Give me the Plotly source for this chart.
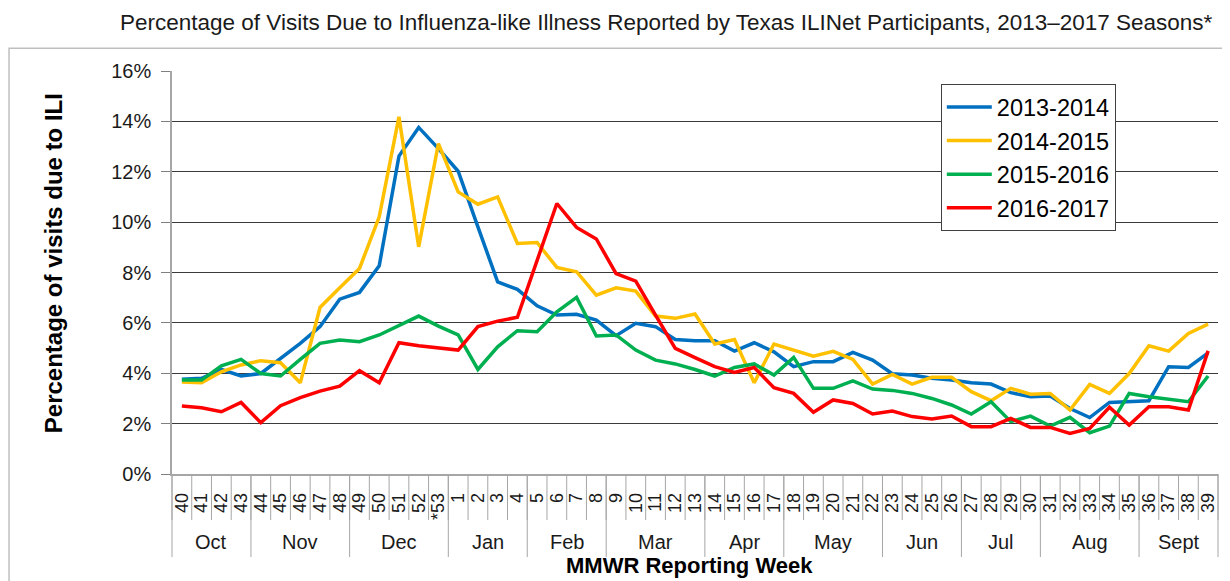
import plotly.graph_objects as go

# ---- data ----
weeks = [str(w) for w in range(40, 53)] + ["*53"] + [str(w) for w in range(1, 40)]
months = ["Oct", "Nov", "Dec", "Jan", "Feb", "Mar", "Apr", "May", "Jun", "Jul", "Aug", "Sept"]
month_weeks = [4, 5, 5, 4, 4, 5, 4, 5, 4, 4, 5, 4]

season_names = ["2013-2014", "2014-2015", "2015-2016", "2016-2017"]

ili_2013_2014 = [3.76, 3.80, 4.15, 3.89, 3.99, 4.59, 5.19, 5.85, 6.94, 7.21, 8.27, 12.62, 13.76, 12.92, 12.02, 9.81, 7.63, 7.33, 6.68,
                 6.31, 6.34, 6.11, 5.49, 5.98, 5.85, 5.34, 5.29, 5.29, 4.88, 5.21, 4.85, 4.26, 4.46, 4.46, 4.83, 4.52, 3.98,
                 3.93, 3.80, 3.73, 3.62, 3.57, 3.23, 3.07, 3.10, 2.60, 2.24, 2.84, 2.87, 2.91, 4.26, 4.23, 4.81]
ili_2014_2015 = [3.65, 3.62, 4.06, 4.33, 4.50, 4.42, 3.62, 6.61, 7.39, 8.16, 10.21, 14.18, 9.02, 13.12, 11.20, 10.71, 11.00, 9.15, 9.19,
                 8.20, 8.03, 7.10, 7.39, 7.26, 6.27, 6.18, 6.35, 5.16, 5.34, 3.62, 5.16, 4.92, 4.68, 4.87, 4.55, 3.57, 3.95,
                 3.57, 3.84, 3.84, 3.27, 2.91, 3.40, 3.17, 3.20, 2.54, 3.56, 3.20, 3.99, 5.09, 4.88, 5.58, 5.95]
ili_2015_2016 = [3.73, 3.73, 4.29, 4.55, 3.99, 3.89, 4.55, 5.19, 5.32, 5.25, 5.52, 5.89, 6.27, 5.87, 5.52, 4.15, 5.05, 5.69, 5.65,
                 6.44, 7.01, 5.48, 5.52, 4.92, 4.52, 4.37, 4.15, 3.89, 4.23, 4.37, 3.93, 4.63, 3.40, 3.40, 3.70, 3.37, 3.32,
                 3.20, 3.00, 2.74, 2.38, 2.87, 2.08, 2.30, 1.90, 2.25, 1.64, 1.90, 3.20, 3.07, 2.96, 2.87, 3.89]
ili_2016_2017 = [2.70, 2.63, 2.47, 2.84, 2.04, 2.71, 3.03, 3.29, 3.49, 4.10, 3.62, 5.21, 5.09, 5.01, 4.92, 5.85, 6.07, 6.22, 8.50,
                 10.74, 9.79, 9.33, 7.96, 7.66, 6.31, 4.99, 4.62, 4.26, 4.03, 4.23, 3.43, 3.20, 2.45, 2.94, 2.80, 2.38, 2.50,
                 2.28, 2.18, 2.30, 1.88, 1.88, 2.21, 1.85, 1.85, 1.61, 1.81, 2.65, 1.94, 2.67, 2.67, 2.54, 4.89]

series = [ili_2013_2014, ili_2014_2015, ili_2015_2016, ili_2016_2017]
colors = ["#0070C0", "#FFC000", "#00B050", "#FF0000"]

FONT = "Arial, Liberation Sans, sans-serif"

fig = go.Figure()
for name, vals, col in zip(season_names, series, colors):
    fig.add_trace(go.Scatter(x=weeks, y=vals, name=name, mode="lines",
                             line=dict(color=col, width=3.5)))

n = len(weeks)
shapes = []
# week separator ticks below axis
for k in range(n + 1):
    shapes.append(dict(type="line", xref="paper", yref="paper", x0=k / n, x1=k / n,
                       y0=0, y1=-0.114, line=dict(color="#A6A6A6", width=1)))
# month dividers and month labels
annotations = []
cum = 0
shapes.append(dict(type="line", xref="paper", yref="paper", x0=0, x1=0,
                   y0=0, y1=-0.206, line=dict(color="#A6A6A6", width=1)))
for m, cnt in zip(months, month_weeks):
    start = cum
    cum += cnt
    shapes.append(dict(type="line", xref="paper", yref="paper", x0=cum / n, x1=cum / n,
                       y0=0, y1=-0.206, line=dict(color="#A6A6A6", width=1)))
    annotations.append(dict(text=m, xref="paper", yref="paper", x=(start + cum) / 2 / n, y=-0.1686,
                            showarrow=False, xanchor="center", yanchor="middle",
                            font=dict(family=FONT, size=20, color="#1a1a1a")))

# outer chart border
shapes.append(dict(type="rect", xref="paper", yref="paper", x0=-0.1558, x1=1.02, y0=1.0563, y1=-0.30,
                   line=dict(color="#BFBFBF", width=1.5), fillcolor="rgba(0,0,0,0)", layer="below"))

annotations.append(dict(text="Percentage of Visits Due to Influenza-like Illness Reported by Texas ILINet Participants, 2013\u20132017 Seasons*",
                        xref="paper", yref="paper", x=0.4723, y=1.1195, showarrow=False,
                        xanchor="center", yanchor="middle", font=dict(family=FONT, size=22.5, color="#1a1a1a")))
annotations.append(dict(text="<b>Percentage of visits due to ILI</b>", textangle=-90,
                        xref="paper", yref="paper", x=-0.1138, y=0.523, showarrow=False,
                        xanchor="center", yanchor="middle", font=dict(family=FONT, size=24, color="#000000")))
annotations.append(dict(text="<b>MMWR Reporting Week</b>",
                        xref="paper", yref="paper", x=0.495, y=-0.2281, showarrow=False,
                        xanchor="center", yanchor="middle", font=dict(family=FONT, size=22, color="#000000")))

# page body has an 8px margin, so the figure is offset by 8px
fig.update_layout(
    width=1214, height=573,
    margin=dict(l=164, r=4, t=63, b=107),
    paper_bgcolor="white", plot_bgcolor="white",
    font=dict(family=FONT, color="#1a1a1a"),
    showlegend=True,
    legend=dict(x=0.735, y=0.967, xanchor="left", yanchor="top",
                bgcolor="white", bordercolor="#404040", borderwidth=1, itemwidth=45,
                font=dict(family=FONT, size=23.5, color="#000000"), tracegroupgap=0),
    shapes=shapes,
    annotations=annotations,
)
fig.update_xaxes(type="category", range=[-0.5, n - 0.5], tickangle=-90, showgrid=False,
                 tickmode="linear", dtick=1,
                 showline=True, linecolor="#A6A6A6", linewidth=1.5, ticks="",
                 tickfont=dict(family=FONT, size=18, color="#1a1a1a"), ticklabelstandoff=10,
                 fixedrange=True)
fig.update_yaxes(range=[0, 16], dtick=2, ticksuffix="%", showgrid=True, gridcolor="#3a3a3a", gridwidth=1,
                 zeroline=False, showline=True, linecolor="#A6A6A6", linewidth=1.5,
                 ticks="outside", ticklen=9, tickcolor="#808080",
                 tickfont=dict(family=FONT, size=20, color="#1a1a1a"), ticklabelstandoff=6,
                 fixedrange=True)

fig.write_html("out.html")
